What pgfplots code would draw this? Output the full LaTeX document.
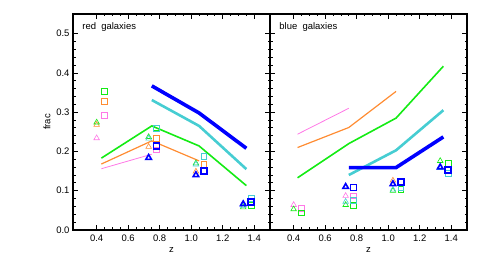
\documentclass[border=0pt]{standalone}
\usepackage{pgfplots}
\pgfplotsset{compat=1.18}
\usepackage{fontspec}
\setmainfont{Liberation Sans}
\definecolor{cblue}{RGB}{0,0,255}
\definecolor{ccyan}{RGB}{70,205,210}
\definecolor{cgreen}{RGB}{20,235,20}
\definecolor{corange}{RGB}{255,140,50}
\definecolor{cpink}{RGB}{255,120,230}
\pgfplotsset{
  panel/.style={
    scale only axis, width=197bp, height=216bp,
    xmin=0.25, xmax=1.5, ymin=0, ymax=0.55,
    xtick={0.4,0.6,...,1.4}, ytick={0,0.1,...,0.5},
    minor x tick num=3, minor y tick num=4,
    tick align=inside, major tick length=5bp, minor tick length=2.5bp,
    axis line style={line width=1.2bp}, tick style={line width=0.8bp, black},
    every tick label/.append style={font=\fontsize{9.5}{11}\selectfont},
    xticklabel style={yshift=-1.5bp},
    /pgf/number format/assume math mode=true,
    /pgf/number format/fixed, /pgf/number format/fixed zerofill,
    /pgf/number format/precision=1,
    xlabel={z}, xlabel style={font=\fontsize{9.5}{11}\selectfont, yshift=1bp},
    clip=false,
  },
  tri/.style={only marks, mark=triangle, mark size=3.2bp, mark options={line width=0.6bp}},
  sq/.style={only marks, mark=square, mark size=2.9bp, mark options={line width=0.6bp}},
  btri/.style={only marks, mark=triangle, mark size=3.2bp, mark options={line width=1.6bp}},
  bsq/.style={only marks, mark=square, mark size=2.9bp, mark options={line width=1.6bp}},
}
\begin{document}
\begin{tikzpicture}
\path[use as bounding box] (0,0) rectangle (491bp,273bp);
% left panel
\begin{axis}[panel, at={(73bp,43bp)}, anchor=south west,
  ylabel={frac}, ylabel style={font=\fontsize{9.5}{11}\selectfont, yshift=-1bp}]
\node[anchor=north west, font=\fontsize{9.5}{11}\selectfont] at (axis description cs:0.03,0.975) {red\ \ galaxies};
\addplot[cpink, line width=0.8bp] coordinates {(0.43,0.156) (0.75,0.193)};
\addplot[corange, line width=1.2bp] coordinates {(0.43,0.168) (0.75,0.227) (1.05,0.176)};
\addplot[cgreen, line width=1.6bp] coordinates {(0.43,0.183) (0.75,0.265) (1.05,0.214) (1.35,0.113)};
\addplot[ccyan, line width=2.6bp] coordinates {(0.75,0.331) (1.05,0.265) (1.35,0.155)};
\addplot[cblue, line width=3.6bp] coordinates {(0.75,0.367) (1.05,0.298) (1.35,0.208)};
% triangles
\addplot[tri, cpink] coordinates {(0.40,0.234)};
\addplot[tri, corange] coordinates {(0.40,0.268) (0.73,0.212) (1.03,0.149)};
\addplot[tri, cgreen] coordinates {(0.40,0.274) (0.73,0.237) (1.03,0.170) (1.33,0.058)};
\addplot[tri, ccyan] coordinates {(0.73,0.233) (1.03,0.167) (1.33,0.062)};
\addplot[btri, cblue] coordinates {(0.73,0.184) (1.03,0.140) (1.33,0.066)};
% squares
\addplot[sq, cpink] coordinates {(0.45,0.293) (0.78,0.204)};
\addplot[sq, corange] coordinates {(0.45,0.327) (0.78,0.234) (1.08,0.168)};
\addplot[sq, cgreen] coordinates {(0.45,0.353) (0.78,0.260) (1.08,0.188) (1.38,0.062)};
\addplot[sq, ccyan] coordinates {(0.78,0.258) (1.08,0.187) (1.38,0.080)};
\addplot[bsq, cblue] coordinates {(0.78,0.214) (1.08,0.150) (1.38,0.071)};
\end{axis}
% right panel
\begin{axis}[panel, at={(270bp,43bp)}, anchor=south west, yticklabels={}]
\node[anchor=north west, font=\fontsize{9.5}{11}\selectfont] at (axis description cs:0.03,0.975) {blue\ \ galaxies};
\addplot[cpink, line width=0.8bp] coordinates {(0.425,0.244) (0.75,0.310)};
\addplot[corange, line width=1.2bp] coordinates {(0.425,0.210) (0.75,0.261) (1.05,0.353)};
\addplot[cgreen, line width=1.6bp] coordinates {(0.425,0.133) (0.75,0.220) (1.05,0.285) (1.35,0.417)};
\addplot[ccyan, line width=2.6bp] coordinates {(0.75,0.140) (1.05,0.203) (1.35,0.305)};
\addplot[cblue, line width=3.6bp] coordinates {(0.75,0.159) (1.05,0.159) (1.35,0.237)};
% triangles
\addplot[tri, cpink] coordinates {(0.40,0.064) (0.73,0.087)};
\addplot[tri, corange] coordinates {(1.03,0.126)};
\addplot[tri, cgreen] coordinates {(0.40,0.053) (0.73,0.064) (1.03,0.100) (1.33,0.176)};
\addplot[tri, ccyan] coordinates {(0.73,0.072) (1.03,0.103) (1.33,0.158)};
\addplot[btri, cblue] coordinates {(0.73,0.110) (1.03,0.117) (1.33,0.160)};
% squares
\addplot[sq, cpink] coordinates {(0.45,0.055) (0.78,0.087)};
\addplot[sq, cgreen] coordinates {(0.45,0.044) (0.78,0.063) (1.08,0.104) (1.38,0.169)};
\addplot[sq, ccyan] coordinates {(0.78,0.076) (1.08,0.108) (1.38,0.144)};
\addplot[bsq, cblue] coordinates {(0.78,0.108) (1.08,0.122) (1.38,0.153)};
\end{axis}
\end{tikzpicture}
\end{document}
